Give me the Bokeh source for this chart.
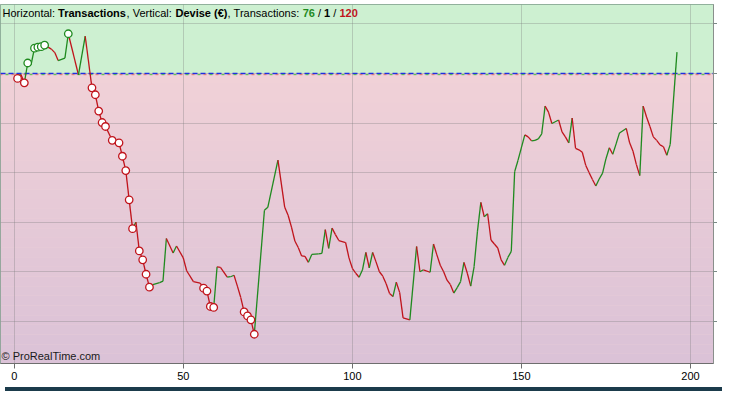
from bokeh.plotting import figure
from bokeh.models import (ColumnDataSource, Span, Label, BoxAnnotation, Div,
                          CustomJSTickFormatter)
from bokeh.layouts import column
from bokeh.embed import file_html
from bokeh.resources import INLINE

# transaction number -> cumulated result (EUR)
trade_no = [1, 2, 3, 4, 5, 6, 7, 8, 9, 11, 12, 13, 15, 16, 19, 21, 23, 24, 25, 26, 27, 29,
            31, 32, 33, 34, 35, 36, 37, 38, 39, 40, 41, 43, 44, 45, 47, 48, 50, 51, 53, 55,
            56, 57, 58, 59, 60, 61, 63, 64, 65, 66, 67, 68, 69, 70, 71, 74, 75, 78, 80, 81,
            82, 83, 84, 85, 86, 87, 88, 90, 91, 92, 93, 94, 95, 96, 98, 99, 100, 101, 102,
            103, 104, 105, 106, 107, 108, 109, 110, 111, 112, 113, 114, 115, 117, 119, 120,
            121, 123, 124, 125, 126, 127, 128, 129, 130, 131, 132, 133, 134, 135, 136, 137,
            138, 139, 140, 141, 142, 143, 144, 145, 146, 147, 148, 149, 151, 152, 153, 154,
            155, 156, 157, 158, 159, 161, 162, 163, 164, 165, 166, 167, 168, 169, 170, 171,
            172, 173, 174, 175, 176, 177, 178, 179, 181, 182, 183, 184, 185, 186, 187, 188,
            189, 190, 191, 192, 193, 194, 196]
equity = [-100, -20, -190, 210, 180, 510, 530, 540, 570, 490, 420, 260, 310, 800, -30, 750,
          -290, -430, -760, -990, -1070, -1350, -1400, -1670, -1960, -2550, -3130, -3000,
          -3580, -3760, -4050, -4310, -4260, -4220, -4190, -3330, -3620, -3480, -3720, -3980,
          -4200, -4230, -4330, -4390, -4700, -4720, -3900, -3910, -4110, -4100, -4070, -4290,
          -4520, -4810, -4890, -4970, -5260, -2760, -2700, -1750, -2700, -2860, -3100, -3380,
          -3510, -3680, -3690, -3810, -3650, -3640, -3630, -3150, -3530, -3120, -3250, -3370,
          -3410, -3720, -3930, -4030, -4110, -3960, -3610, -3920, -3610, -3800, -4000, -4090,
          -4240, -4440, -4500, -4210, -4420, -4930, -4970, -3490, -4000, -3960, -4010, -3440,
          -3660, -3870, -4000, -4170, -4260, -4430, -4320, -4200, -3810, -4030, -4290, -3900,
          -3180, -2600, -2890, -2830, -3360, -3440, -3520, -3760, -3870, -3710, -3590, -1980,
          -1750, -1240, -1280, -1360, -1350, -1320, -1220, -660, -780, -1010, -940, -1180,
          -1280, -1400, -900, -1510, -1540, -1590, -1850, -2000, -2140, -2270, -2130, -2010,
          -1720, -1500, -1630, -1420, -1200, -1110, -1400, -1570, -1840, -2060, -660, -880,
          -1070, -1280, -1350, -1440, -1480, -1650, -1430, 430]

x_ticks = [0, 50, 100, 150, 200]
y_ticks = [1000, 0, -1000, -2000, -3000, -4000, -5000]
n_win, n_even, n_loss = 76, 1, 120

GREEN = "#1f8a1f"
RED = "#c0141c"
FONT = "Liberation Sans"

p = figure(width=717, height=382, x_range=(-4.05, 206.8), y_range=(-5850, 1390),
           output_backend="svg", toolbar_location=None, y_axis_location="right",
           min_border_left=0, min_border_right=0, min_border_top=4, min_border_bottom=0,
           border_fill_color="white", background_fill_color="#efd0d6",
           outline_line_color="#7d9c8a", outline_line_width=1)

# backgrounds: green above zero, pink -> lilac gradient below
p.add_layout(BoxAnnotation(bottom=0, fill_color="#cdf0d1", fill_alpha=1,
                           line_color=None, level="image"))
top_c, bot_c = (240, 209, 215), (219, 194, 215)
n_bands = 30
lo = -5850
for i in range(n_bands):
    f = i / (n_bands - 1)
    c = tuple(int(round(a + (b - a) * f)) for a, b in zip(top_c, bot_c))
    p.add_layout(BoxAnnotation(top=lo * i / n_bands, bottom=lo * (i + 1) / n_bands,
                               fill_color="#%02x%02x%02x" % c, fill_alpha=1,
                               line_color=None, level="image"))

# axes / grid
p.xaxis.ticker = x_ticks
p.xaxis.major_label_text_font = FONT
p.xaxis.major_label_text_font_size = "11px"
p.xaxis.major_label_text_color = "#000000"
p.xaxis.axis_line_color = "#6e6e6e"
p.xaxis.major_tick_line_color = "#6e6e6e"
p.xaxis.major_tick_in = 0
p.xaxis.major_tick_out = 5
p.xaxis.minor_tick_line_color = None
p.xaxis.major_label_standoff = 3

# value labels sit outside the window in the original: ticks only
p.yaxis.ticker = y_ticks
p.yaxis.formatter = CustomJSTickFormatter(code="return ''")
p.yaxis.major_label_standoff = 0
p.yaxis.axis_line_color = "#8a8f8c"
p.yaxis.major_tick_line_color = "#7a8a86"
p.yaxis.major_tick_in = 0
p.yaxis.major_tick_out = 4
p.yaxis.minor_tick_line_color = None

p.xgrid.ticker = x_ticks
p.ygrid.ticker = y_ticks
p.grid.grid_line_color = "#7a7a7a"
p.grid.grid_line_alpha = 0.32

# zero line: blue dashes with small green / red dashes in between
p.add_layout(Span(location=0, dimension="width", line_color="#2030e0",
                  line_width=1.5, line_dash="5 3", level="underlay"))
p.add_layout(Span(location=-25, dimension="width", line_color="#44c044",
                  line_width=1, line_dash="3 9", line_dash_offset=-5, level="underlay"))
p.add_layout(Span(location=-25, dimension="width", line_color="#d87070",
                  line_width=1, line_dash="3 9", line_dash_offset=1, level="underlay"))

# equity segments coloured by direction
seg = ColumnDataSource(dict(
    x0=trade_no[:-1], y0=equity[:-1], x1=trade_no[1:], y1=equity[1:],
    color=[GREEN if b >= a else RED for a, b in zip(equity[:-1], equity[1:])],
))
p.segment("x0", "y0", "x1", "y1", source=seg, line_color="color", line_width=1.3)

# new highs / new lows
hi, lo_run = 0, 0
mx, my, mc = [], [], []
for t, v in zip(trade_no, equity):
    if v > hi:
        hi = v
        mx.append(t); my.append(v); mc.append(GREEN)
    elif v < lo_run:
        lo_run = v
        mx.append(t); my.append(v); mc.append(RED)
p.scatter(mx, my, size=7.5, fill_color="white", line_color=mc, line_width=1.3)

# header text
parts = [
    ("Horizontal:", "normal", "#000000", 2),
    ("Transactions", "bold", "#000000", 57.6),
    (",", "normal", "#000000", 126.1),
    ("Vertical:", "normal", "#000000", 132.2),
    ("Devise (€)", "bold", "#000000", 175),
    (",", "normal", "#000000", 227),
    ("Transactions:", "normal", "#000000", 233.1),
    (str(n_win), "bold", GREEN, 302.2),
    ("/", "normal", "#000000", 317.5),
    (str(n_even), "bold", "#000000", 323.6),
    ("/", "normal", "#000000", 332.8),
    (str(n_loss), "bold", RED, 338.9),
]
for txt, style, col, xs in parts:
    p.add_layout(Label(x=xs, y=1225, x_units="screen", y_units="data", text=txt,
                       text_font=FONT, text_font_size="11px", text_font_style=style,
                       text_color=col, text_baseline="middle"))

p.add_layout(Label(x=1, y=2, x_units="screen", y_units="screen", text="© ProRealTime.com",
                   text_font=FONT, text_font_size="11px", text_color="#1a1a1a"))

strip = Div(width=717, height=4, styles={"background-color": "#1b3b4b"})

open("out.html", "w").write(file_html(column(p, strip), INLINE))
